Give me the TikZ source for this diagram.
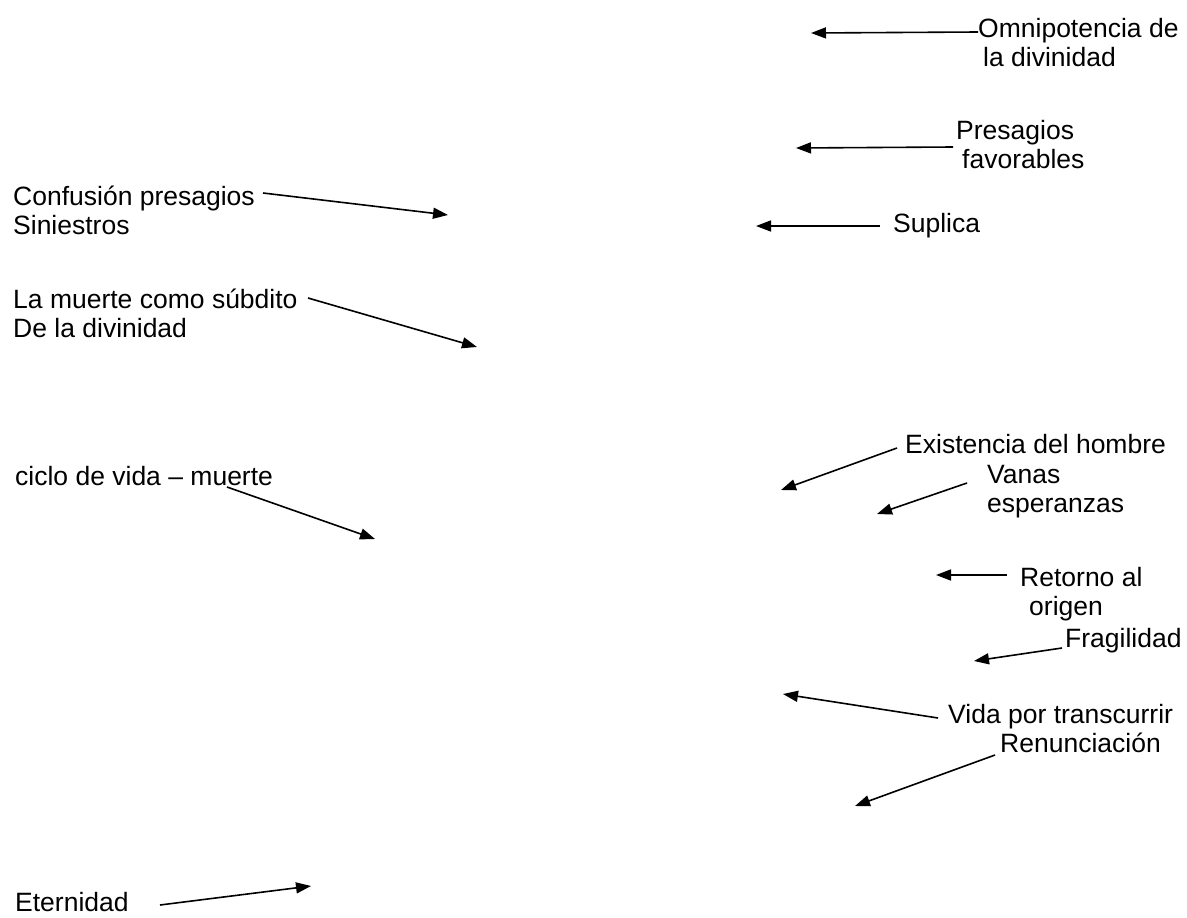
\documentclass[tikz,border=0pt]{standalone}
\usepackage{fontspec}
\setmainfont{Liberation Sans}
\usetikzlibrary{arrows.meta}

\begin{document}
\begin{tikzpicture}[x=1pt,y=-1pt,
  % a label is placed by the baseline of its last line
  lbl/.style={anchor=base west,inner sep=0pt,align=left,
    font=\fontsize{26.5}{29}\selectfont},
  arr/.style={line width=1.6pt,-{Triangle[length=15pt,width=11pt]}}]
\useasboundingbox (0,0) rectangle (1187,918);

% labels
\node[lbl] (omni) at (978,66) {Omnipotencia de\\\hspace*{5pt}la divinidad};
\node[lbl] (pres) at (956,168) {Presagios\\\hspace*{6pt}favorables};
\node[lbl] (supl) at (893,232) {Suplica};
\node[lbl] (conf) at (13,234) {Confusión presagios\\Siniestros};
\node[lbl] (muer) at (13,337) {La muerte como súbdito\\De la divinidad};
\node[lbl] (cicl) at (15,485) {ciclo de vida – muerte};
\node[lbl] (exis) at (905,453) {Existencia del hombre};
\node[lbl] (vana) at (987,512) {Vanas\\esperanzas};
\node[lbl] (reto) at (1020,615) {Retorno al\\\hspace*{9pt}origen};
\node[lbl] (frag) at (1065,647) {Fragilidad};
\node[lbl] (vida) at (948,723) {Vida por transcurrir};
\node[lbl] (renu) at (1000,752) {Renunciación};
\node[lbl] (eter) at (15,911) {Eternidad};

% arrow start points beside the labels
\coordinate (omni-s) at (978,32);
\coordinate (pres-s) at (953,147);
\coordinate (supl-s) at (880,226);
\coordinate (conf-s) at (263,193);
\coordinate (muer-s) at (308,298);
\coordinate (cicl-s) at (227,487);
\coordinate (exis-s) at (897,448);
\coordinate (vana-s) at (967,483);
\coordinate (reto-s) at (1007,575);
\coordinate (frag-s) at (1062,648);
\coordinate (vida-s) at (938,718);
\coordinate (renu-s) at (995,755);
\coordinate (eter-s) at (160,905);

% arrow tips
\coordinate (omni-t) at (811,33);
\coordinate (pres-t) at (796,148);
\coordinate (supl-t) at (756,226);
\coordinate (conf-t) at (448,215);
\coordinate (muer-t) at (477,347);
\coordinate (cicl-t) at (375,539);
\coordinate (exis-t) at (781,490);
\coordinate (vana-t) at (877,514);
\coordinate (reto-t) at (936,575);
\coordinate (frag-t) at (974,661);
\coordinate (vida-t) at (783,694);
\coordinate (renu-t) at (855,806);
\coordinate (eter-t) at (311,886);

\foreach \n in {omni,pres,supl,conf,muer,cicl,exis,vana,reto,frag,vida,renu,eter}
  \draw[arr] (\n-s) -- (\n-t);
\end{tikzpicture}
\end{document}
